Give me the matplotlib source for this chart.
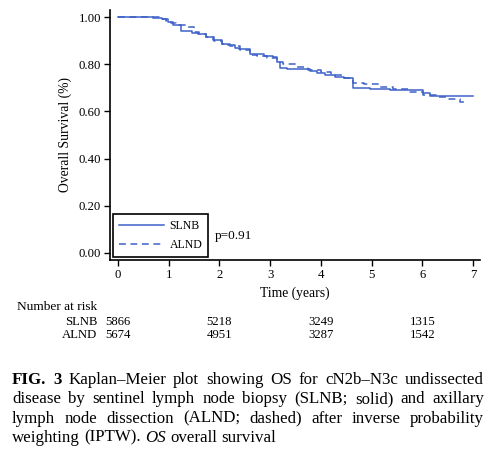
import matplotlib
matplotlib.use("Agg")
import matplotlib.pyplot as plt
import matplotlib.transforms as mtransforms

plt.rcParams['font.family'] = ['Liberation Serif', 'DejaVu Serif']

# ---- data ----
slnb_t = [0, 0.69, 0.86, 0.99, 1.09, 1.24, 1.45, 1.58, 1.74, 1.87, 2.04, 2.17, 2.31, 2.38,
          2.60, 2.87, 3.06, 3.13, 3.20, 3.33, 3.79, 3.92, 4.08, 4.28, 4.45, 4.64, 4.97,
          5.36, 6.02, 6.15, 7.0]
slnb_s = [1.0, 0.997, 0.99, 0.98, 0.966, 0.942, 0.934, 0.928, 0.914, 0.903, 0.886, 0.880,
          0.870, 0.864, 0.843, 0.836, 0.829, 0.811, 0.783, 0.778, 0.771, 0.761, 0.754, 0.744,
          0.740, 0.698, 0.694, 0.689, 0.677, 0.667, 0.667]
alnd_t = [0, 0.6, 0.8, 0.95, 1.05, 1.14, 1.35, 1.5, 1.6, 1.74, 1.9, 2.05, 2.2, 2.41, 2.6,
          2.75, 2.93, 3.13, 3.26, 3.52, 3.75, 4.0, 4.2, 4.45, 4.64, 4.85, 5.17, 5.43, 5.76,
          6.02, 6.28, 6.48, 6.75, 6.88]
alnd_s = [1.0, 0.998, 0.99, 0.982, 0.975, 0.966, 0.959, 0.938, 0.93, 0.914, 0.90, 0.886,
          0.878, 0.860, 0.841, 0.833, 0.825, 0.811, 0.80, 0.789, 0.776, 0.765, 0.754, 0.742,
          0.719, 0.714, 0.705, 0.695, 0.681, 0.670, 0.662, 0.653, 0.641, 0.636]

risk_times = [0, 2, 4, 6]
risk_slnb = [5866, 5218, 3249, 1315]
risk_alnd = [5674, 4951, 3287, 1542]
y_ticks = [0.0, 0.2, 0.4, 0.6, 0.8, 1.0]
x_ticks = [0, 1, 2, 3, 4, 5, 6, 7]
p_text = "p=0.91"

caption_lines = [
    [("FIG.", "bold"), ("3", "bold"), ("Kaplan–Meier", None), ("plot", None), ("showing", None),
     ("OS", None), ("for", None), ("cN2b–N3c", None), ("undissected", None)],
    [(w, None) for w in "disease by sentinel lymph node biopsy (SLNB; solid) and axillary".split()],
    [(w, None) for w in "lymph node dissection (ALND; dashed) after inverse probability".split()],
    [("weighting", None), ("(IPTW).", None), ("OS", "italic"), ("overall", None), ("survival", None)],
]

color = '#3d62c8'
W, H = 496, 468
fig = plt.figure(figsize=(W / 100, H / 100), dpi=100)
ax = fig.add_axes([110 / W, 1 - 260 / H, (480 - 110) / W, (260 - 10) / H])

ax.step(slnb_t, slnb_s, where='post', color=color, lw=1.1, label='SLNB')
ax.step(alnd_t, alnd_s, where='post', color=color, lw=1.1, ls=(0, (4.5, 3)), label='ALND')

ax.set_xlim(-0.16, 7.14)
ax.set_ylim(-0.0297, 1.0297)
ax.set_xticks(x_ticks)
ax.set_yticks(y_ticks)
ax.set_yticklabels([f"{v:.2f}" for v in y_ticks])
ax.tick_params(direction='out', length=4.5, width=1, labelsize=9.2, pad=2)
for s in ['top', 'right']:
    ax.spines[s].set_visible(False)
for s in ['left', 'bottom']:
    ax.spines[s].set_linewidth(1.2)
ax.set_ylabel('Overall Survival (%)', fontsize=9.8, labelpad=5)
ax.set_xlabel('Time (years)', fontsize=9.8, labelpad=4)

leg = ax.legend(loc='lower left', bbox_to_anchor=(0.008, 0.013), fontsize=8.5,
                handlelength=3.8, frameon=True, fancybox=False, edgecolor='black',
                framealpha=1, borderaxespad=0, borderpad=0.5, labelspacing=0.6,
                handletextpad=0.5)
leg.get_frame().set_linewidth(1.2)

ax.text(215, H - 236, p_text, transform=None, fontsize=9.5, va='center', ha='left')

# number at risk
tr = mtransforms.blended_transform_factory(ax.transData, fig.transFigure)
fig.text(17 / W, 1 - 306.7 / H, "Number at risk", fontsize=9.6, va='center', ha='left')
for row_y, name, vals in [(321.7, "SLNB", risk_slnb), (335.5, "ALND", risk_alnd)]:
    for t, v in zip(risk_times, vals):
        ax.text(t, 1 - row_y / H, str(v), transform=tr, fontsize=9.2, va='center', ha='center',
                clip_on=False)
    off = mtransforms.offset_copy(tr, fig=fig, x=-15, y=0, units='points')
    ax.text(risk_times[0], 1 - row_y / H, name, transform=off, fontsize=9.2, va='center',
            ha='right', clip_on=False)

# caption, justified
fig.canvas.draw()
renderer = fig.canvas.get_renderer()
left_px, right_px = 12, 484
baselines = [384, 403.3, 422.7, 441.7]
cap_fs = 12.2
for i, (words, by) in enumerate(zip(caption_lines, baselines)):
    texts = []
    for w, style in words:
        kw = {}
        if style == 'bold':
            kw['fontweight'] = 'bold'
        if style == 'italic':
            kw['fontstyle'] = 'italic'
        t = fig.text(0, 1 - by / H, w, fontsize=cap_fs, va='baseline', ha='left', **kw)
        texts.append(t)
    widths = [t.get_window_extent(renderer).width for t in texts]
    if i < len(caption_lines) - 1:
        gap = (right_px - left_px - sum(widths)) / (len(texts) - 1)
    else:
        gap = cap_fs * 100 / 72 * 0.25
    x = left_px
    for t, w in zip(texts, widths):
        t.set_x(x / W)
        x += w + gap

fig.savefig('out.png', dpi=100)
